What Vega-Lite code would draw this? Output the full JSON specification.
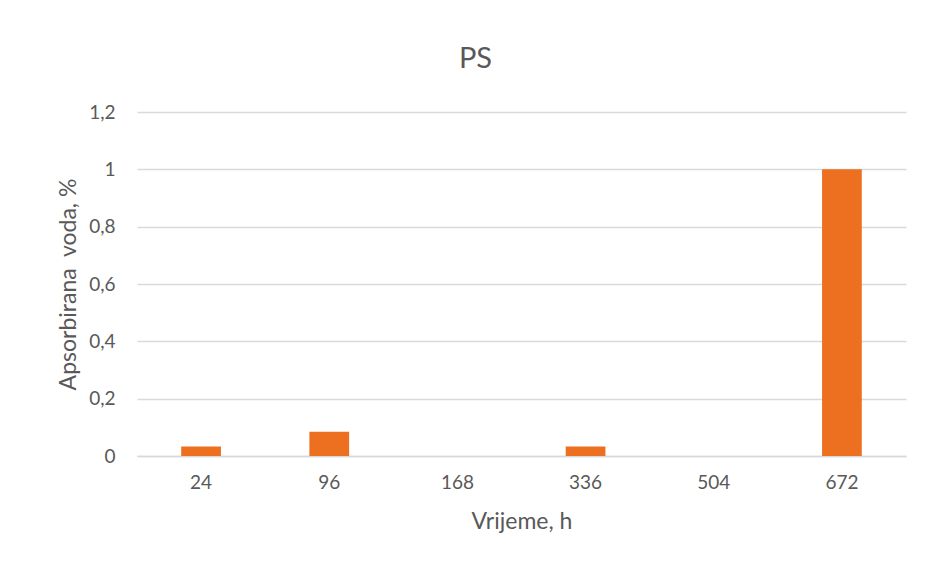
{
  "$schema": "https://vega.github.io/schema/vega-lite/v6.json",
  "autosize": "none",
  "width": 769,
  "height": 344,
  "padding": {"left": 137, "top": 112, "right": 22, "bottom": 109},
  "background": "white",
  "title": {"text": "PS", "fontSize": 29, "font": "Lato", "fontWeight": "normal", "color": "#595959", "offset": 29, "dx": -46, "anchor": "middle"},
  "data": {"values": [
    {"vrijeme": "24", "voda": 0.033},
    {"vrijeme": "96", "voda": 0.085},
    {"vrijeme": "168", "voda": 0},
    {"vrijeme": "336", "voda": 0.033},
    {"vrijeme": "504", "voda": 0},
    {"vrijeme": "672", "voda": 1.0}
  ]},
  "config": {"view": {"stroke": null}},
  "mark": {"type": "bar", "color": "#EC7020"},
  "encoding": {
    "x": {
      "field": "vrijeme", "type": "ordinal",
      "sort": ["24", "96", "168", "336", "504", "672"],
      "scale": {"paddingInner": 0.69, "paddingOuter": 0.345},
      "axis": {
        "title": "Vrijeme, h", "labelAngle": 0, "ticks": false,
        "domainColor": "#d9d9d9", "domainWidth": 1.5,
        "labelFont": "Lato", "labelFontSize": 19, "labelColor": "#595959", "labelPadding": 17,
        "titleFont": "Lato", "titleFontSize": 23, "titleFontWeight": "normal", "titleColor": "#595959", "titlePadding": 18
      }
    },
    "y": {
      "field": "voda", "type": "quantitative",
      "scale": {"domain": [0, 1.2], "nice": false},
      "axis": {
        "title": "Apsorbirana\u00a0 voda, %", "values": [0, 0.2, 0.4, 0.6, 0.8, 1, 1.2],
        "format": "~g", "labelExpr": "replace(datum.label, '.', ',')",
        "domain": false, "ticks": false, "grid": true, "gridColor": "#d9d9d9", "gridWidth": 1.5,
        "labelFont": "Lato", "labelFontSize": 19, "labelColor": "#595959", "labelPadding": 22,
        "titleFont": "Lato", "titleFontSize": 23, "titleFontWeight": "normal", "titleColor": "#595959", "titlePadding": 8
      }
    }
  }
}
